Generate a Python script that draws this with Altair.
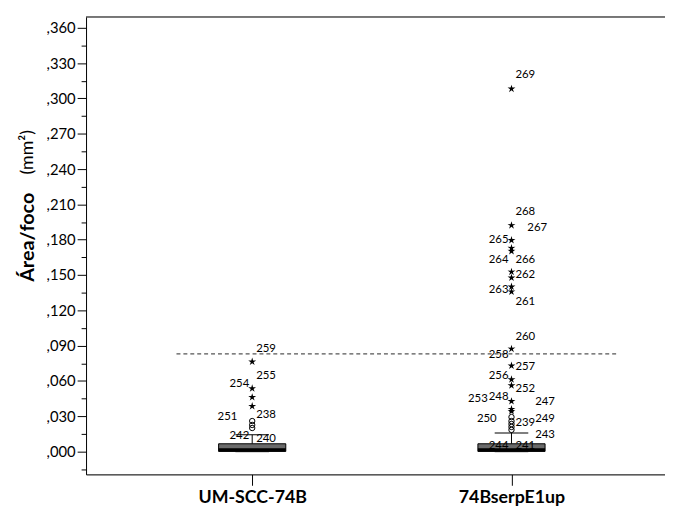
import math
import altair as alt
import pandas as pd

# ---------------- data ----------------
groups = ["UM-SCC-74B", "74BserpE1up"]
group_pos = [1, 2]

lower_whisker = [0.0, 0.0]
q1 = [0.0002, 0.0002]
median = [0.0016, 0.0016]
q3 = [0.0067, 0.0067]
upper_whisker = [0.0143, 0.0159]

# extreme values (stars)
extreme_group = [1, 1, 1, 1,
                 2, 2, 2, 2, 2, 2, 2, 2, 2, 2, 2, 2, 2, 2, 2, 2]
extreme_values = [0.0764, 0.0537, 0.0462, 0.0386,
                  0.3082, 0.1922, 0.1796, 0.1729, 0.1703, 0.1527, 0.1477,
                  0.1401, 0.1359, 0.0873, 0.0730, 0.0613, 0.0562, 0.0428,
                  0.0361, 0.0344]

# outliers (circles)
outlier_group = [1, 1, 1, 2, 2, 2, 2, 2]
outlier_values = [0.0260, 0.0227, 0.0201,
                  0.0294, 0.0260, 0.0235, 0.0210, 0.0185]

# case labels
label_group = [1, 1, 1, 1, 1, 1, 1,
               2, 2, 2, 2, 2, 2, 2, 2, 2, 2, 2, 2, 2, 2, 2, 2, 2, 2, 2, 2, 2, 2, 2]
label_text = ["259", "255", "254", "251", "238", "242", "240",
              "269", "268", "267", "265", "264", "266", "262", "263", "261",
              "260", "258", "257", "256", "252", "248", "253", "247", "250",
              "239", "249", "243", "244", "241"]
label_value = [0.0873, 0.0646, 0.0571, 0.0294, 0.0310, 0.0134, 0.0109,
               0.3197, 0.2031, 0.1896, 0.1796, 0.1628, 0.1628, 0.1502,
               0.1376, 0.1267, 0.0973, 0.0822, 0.0722, 0.0646, 0.0529,
               0.0462, 0.0445, 0.0420, 0.0277, 0.0243, 0.0277, 0.0143,
               0.0050, 0.0050]
# label slot: negative = left of the points, positive = right
label_slot = [1, 1, -1, -2, 1, -1, 1,
              1, 1, 2, -1, -1, 1, 1, -1, 1, 1, -1, 1, -1, 1, -1, -3, 3, -2,
              1, 3, 3, -1, 1]

ref_value = 0.0831
ref_span = [0.708, 2.404]

y_ticks = [round(-0.015 + 0.015 * i, 3) for i in range(26)]

# ---------------- styling ----------------
FONT = "Lato"
W, H = 586, 463
X_DOMAIN = [0.3783, 2.573]
Y_DOMAIN = [-0.0193, 0.3692]
slot_dx = {1: 4, 2: 16, 3: 24, -1: -3, -2: -15, -3: -24}

pts = []
for i in range(10):
    r = 1.0 if i % 2 == 0 else 0.36
    a = math.radians(-90 + 36 * i)
    pts.append(f"{r * math.cos(a):.3f},{r * math.sin(a):.3f}")
STAR = "M" + "L".join(pts) + "Z"

label_expr_x = " : ".join(
    [f"datum.value == {p} ? '{g}'" for p, g in zip(group_pos, groups)]) + " : ''"

major_test = "abs(round(datum.value * 1000) % 30) == 0"
y_axis = alt.Axis(
    values=y_ticks,
    labelExpr=f"{major_test} ? replace(format(datum.value, '.3f'), '0.', ',') : ''",
    tickSize={"condition": {"test": major_test, "value": 9}, "value": 5},
    title=None, grid=False, labelFont=FONT, labelFontSize=15, labelPadding=2,
    domainColor="black", tickColor="black", labelColor="black",
)
x_axis = alt.Axis(
    values=group_pos, labelExpr=label_expr_x, title=None, grid=False,
    labelFont=FONT, labelFontSize=18, labelFontWeight="bold", tickSize=11,
    labelPadding=3, domainColor="black", tickColor="black", labelColor="black",
    labelAngle=0,
)
xs = alt.Scale(domain=X_DOMAIN, nice=False, zero=False)
ys = alt.Scale(domain=Y_DOMAIN, nice=False, zero=False)


def X(field):
    return alt.X(field, type="quantitative", scale=xs, axis=x_axis)


def Y(field):
    return alt.Y(field, type="quantitative", scale=ys, axis=y_axis)


box_df = pd.DataFrame({
    "grp": group_pos, "lw": lower_whisker, "q1": q1, "med": median,
    "q3": q3, "uw": upper_whisker,
})
ext_df = pd.DataFrame({"grp": extreme_group, "v": extreme_values})
out_df = pd.DataFrame({"grp": outlier_group, "v": outlier_values})
lab_df = pd.DataFrame({"grp": label_group, "t": label_text,
                       "v": label_value, "slot": label_slot})
ref_df = pd.DataFrame({"x1": [ref_span[0]], "x2": [ref_span[1]], "v": [ref_value]})

base_box = alt.Chart(box_df)

top_border = alt.Chart(ref_df).mark_rule(color="black", strokeWidth=1).encode(
    x=alt.value(0), x2=alt.value(W), y=alt.value(0))

ref_line = alt.Chart(ref_df).mark_rule(color="#555555", strokeDash=[4, 3],
                                       strokeWidth=1.2).encode(
    x=X("x1"), x2="x2", y=Y("v"))

whisker = base_box.mark_rule(color="black").encode(x=X("grp"), y=Y("q3"), y2="uw")
cap_top = base_box.mark_tick(orient="horizontal", size=34, thickness=1,
                             color="black", opacity=1).encode(x=X("grp"), y=Y("uw"))
cap_low = base_box.mark_tick(orient="horizontal", size=34, thickness=1,
                             color="#666666", opacity=1).encode(x=X("grp"), y=Y("lw"))
box = base_box.mark_bar(size=68, color="#6a6a6a", stroke="black",
                        strokeWidth=1, opacity=1).encode(x=X("grp"), y=Y("q1"), y2="q3")
med = base_box.mark_tick(orient="horizontal", size=68, thickness=3,
                         color="black", opacity=1).encode(x=X("grp"), y=Y("med"))

circles = alt.Chart(out_df).mark_point(shape="circle", filled=False, size=30,
                                       color="black", strokeWidth=1,
                                       opacity=1).encode(x=X("grp"), y=Y("v"))
stars = alt.Chart(ext_df).mark_point(shape=STAR, filled=True, size=70,
                                     color="black", opacity=1).encode(
    x=X("grp"), y=Y("v"))

label_layers = []
for s, dx in slot_dx.items():
    label_layers.append(
        alt.Chart(lab_df).transform_filter(f"datum.slot == {s}").mark_text(
            align="left" if s > 0 else "right", baseline="middle", dx=dx,
            font=FONT, fontSize=11.5, color="black").encode(
            x=X("grp"), y=Y("v"), text="t:N"))

title_bold = alt.Chart(pd.DataFrame({"t": ["Área/foco"]})).mark_text(
    angle=270, font=FONT, fontSize=20, fontWeight="bold", color="black",
    baseline="middle", align="center").encode(
    x=alt.value(-59), y=alt.value(223), text="t:N")
title_unit = alt.Chart(pd.DataFrame({"t": ["(mm²)"]})).mark_text(
    angle=270, font=FONT, fontSize=18, color="black",
    baseline="middle", align="center").encode(
    x=alt.value(-59), y=alt.value(137), text="t:N")

chart = alt.layer(
    top_border, ref_line, whisker, cap_top, cap_low, box, med,
    circles, stars, *label_layers, title_bold, title_unit,
).properties(
    width=W, height=H,
    padding={"left": 79, "top": 6, "right": 0, "bottom": 35},
    autosize=alt.AutoSizeParams(type="none"),
).configure_view(
    fill="#f0f0f0", stroke=None,
).configure(background="white")

chart.save("out.html", embed_options={"renderer": "svg", "actions": False})
